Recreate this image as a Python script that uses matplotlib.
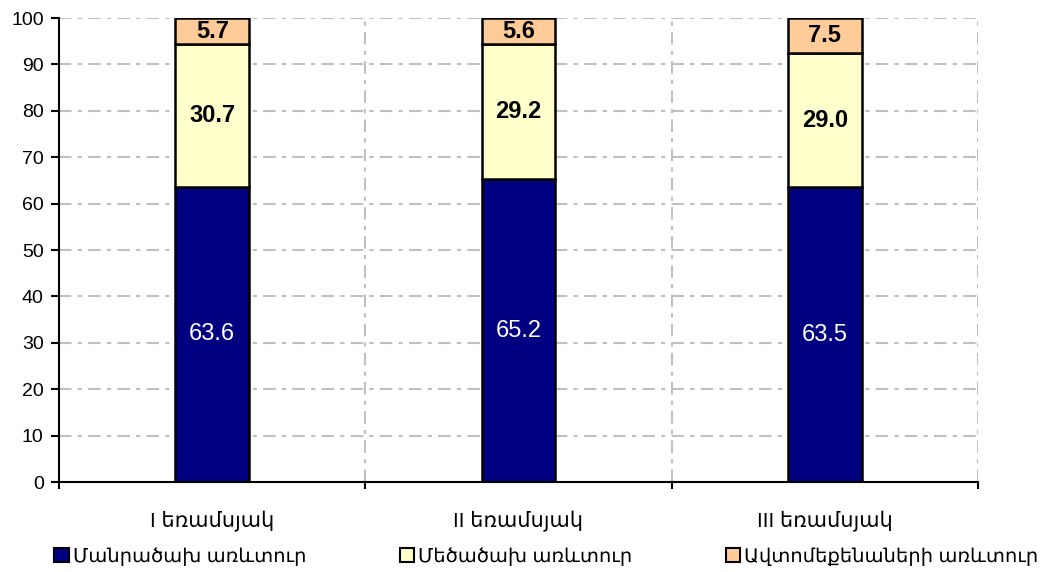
import numpy as np
import matplotlib.pyplot as plt
from matplotlib.patches import Patch

plt.rcParams['font.family'] = ['Liberation Sans', 'DejaVu Sans']

quarters = ['I եռամսյակ', 'II եռամսյակ', 'III եռամսյակ']
series_names = ['Մանրածախ առևտուր', 'Մեծածախ առևտուր', 'Ավտոմեքենաների առևտուր']
retail = [63.6, 65.2, 63.5]
wholesale = [30.7, 29.2, 29.0]
auto = [5.7, 5.6, 7.5]
colors = ['#000080', '#FFFFCC', '#FFCC99']
text_colors = ['white', 'black', 'black']

fig = plt.figure(figsize=(10.41, 5.72), dpi=100)
ax = fig.add_axes([0.0567, 0.1573, 0.8828, 0.8112])

x = np.arange(len(quarters))
bottom = np.zeros(len(quarters))
for vals, col, tcol in zip([retail, wholesale, auto], colors, text_colors):
    vals = np.array(vals)
    ax.bar(x, vals, width=0.24, bottom=bottom, color=col,
           edgecolor='black', linewidth=1.8, zorder=3)
    for xi, b, v in zip(x, bottom, vals):
        ax.text(xi, b + v / 2, f'{v:.1f}', ha='center', va='center',
                fontsize=17, color=tcol, fontweight='bold' if tcol == 'black' else 'normal',
                zorder=4)
    bottom += vals

ax.set_xlim(-0.5, 2.5)
ax.set_ylim(0, 100)
ax.set_yticks(np.arange(0, 101, 10))
ax.tick_params(axis='y', direction='out', length=6, width=1.5, labelsize=14, pad=5)

# major ticks at category boundaries, labels as minor ticks at centers
ax.set_xticks([-0.5, 0.5, 1.5, 2.5])
ax.set_xticklabels([])
ax.tick_params(axis='x', which='major', direction='out', length=5, width=1.5)
ax.set_xticks(x, minor=True)
ax.set_xticklabels(quarters, minor=True)
ax.tick_params(axis='x', which='minor', length=0, labelsize=15, pad=20)

grid_style = dict(color='#C0C0C0', linewidth=1.5, linestyle=(0, (6, 3, 2, 3)), zorder=1)
for yv in np.arange(10, 101, 10):
    ax.axhline(yv, **grid_style)
for xv in [0.5, 1.5, 2.5]:
    ax.axvline(xv, **grid_style)

for side in ['top', 'right']:
    ax.spines[side].set_visible(False)
for side in ['left', 'bottom']:
    ax.spines[side].set_linewidth(1.5)
    ax.spines[side].set_zorder(5)

handles = [Patch(facecolor=c, edgecolor='black', linewidth=1.5) for c in colors]
fig.legend(handles, series_names, loc='lower center', bbox_to_anchor=(0.525, -0.02),
           ncol=3, frameon=False, fontsize=14, handlelength=0.75, handleheight=0.75,
           handletextpad=0.2, columnspacing=4.8)

fig.savefig('out.png', dpi=100)
